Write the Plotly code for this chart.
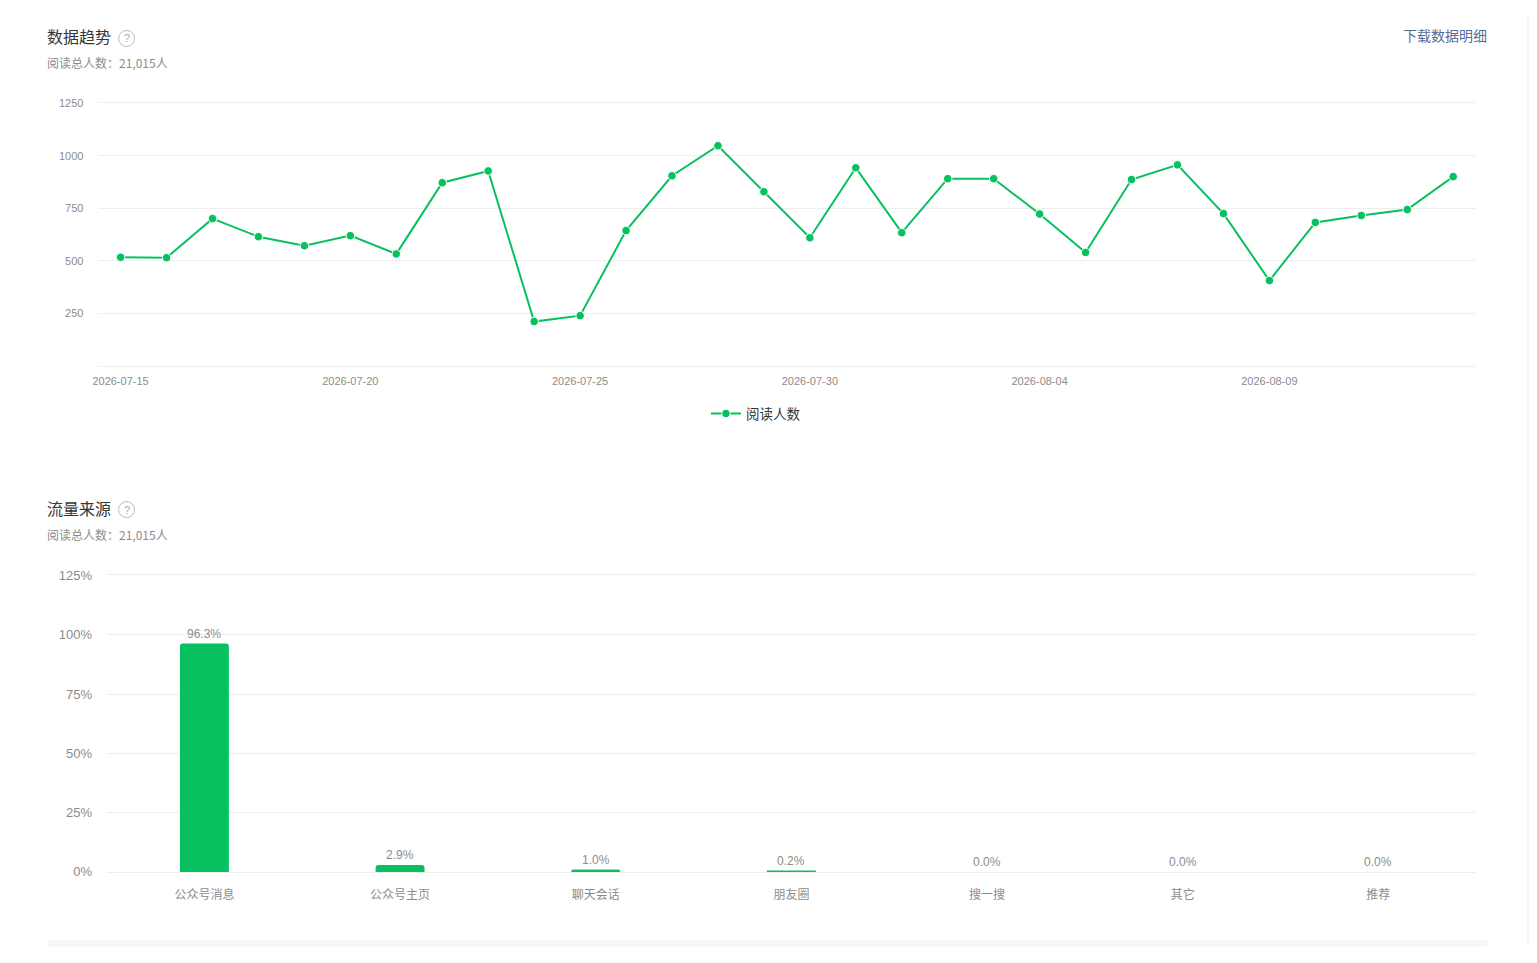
import plotly.graph_objects as go

# ---------------- data ----------------
dates = ["2026-07-15", "2026-07-16", "2026-07-17", "2026-07-18", "2026-07-19",
         "2026-07-20", "2026-07-21", "2026-07-22", "2026-07-23", "2026-07-24",
         "2026-07-25", "2026-07-26", "2026-07-27", "2026-07-28", "2026-07-29",
         "2026-07-30", "2026-07-31", "2026-08-01", "2026-08-02", "2026-08-03",
         "2026-08-04", "2026-08-05", "2026-08-06", "2026-08-07", "2026-08-08",
         "2026-08-09", "2026-08-10", "2026-08-11", "2026-08-12", "2026-08-13"]
readers = [517, 515, 701, 615, 572, 620, 533, 872, 928, 211,
           239, 644, 905, 1048, 829, 610, 943, 634, 891, 891,
           723, 540, 887, 957, 725, 406, 683, 716, 744, 901]
trend_yticks = [0, 250, 500, 750, 1000, 1250]

sources = ["公众号消息", "公众号主页", "聊天会话", "朋友圈", "搜一搜", "其它", "推荐"]
source_pct = [96.3, 2.9, 1.0, 0.2, 0.0, 0.0, 0.0]
source_yticks = [0, 25, 50, 75, 100, 125]

total_text = "阅读总人数：21,015人"
series_name = "阅读人数"

# ---------------- style ----------------
W, H = 1521, 947
GREEN = "#07c160"
GRID = "#eeeeee"
TICK = "#8c8c8c"
CJK = "Noto Sans CJK SC"
NUM = "Liberation Sans, Noto Sans CJK SC"


def px(x):
    # screen x -> paper fraction (accounts for page offset of the figure)
    return ((x - 11.3) / 0.99775) / W


def py(y):
    # screen y -> paper fraction
    return 1 - ((y - 13.5) / 0.986) / H


fig = go.Figure()

fig.add_trace(go.Scatter(
    x=dates, y=readers, name=series_name, mode="lines+markers",
    line=dict(color=GREEN, width=2),
    marker=dict(color=GREEN, size=8.5, line=dict(color="white", width=1)),
    xaxis="x", yaxis="y", showlegend=True,
))

fig.add_trace(go.Bar(
    x=sources, y=source_pct, width=0.25,
    marker=dict(color=GREEN, cornerradius=3, line=dict(width=0)),
    xaxis="x2", yaxis="y2", showlegend=False,
))

annotations = []
for s, v in zip(sources, source_pct):
    annotations.append(dict(
        x=s, y=v, xref="x2", yref="y2", text=f"{v:.1f}%", showarrow=False,
        yanchor="bottom", yshift=1,
        font=dict(family=NUM, size=12, color=TICK),
    ))

for ty, sy, hy, title in [(35, 61, 37, "数据趋势"), (507, 534, 509, "流量来源")]:
    annotations.append(dict(x=px(43), y=py(ty), xref="paper", yref="paper",
                            xanchor="left", yanchor="middle", showarrow=False,
                            text=title, font=dict(family=CJK, size=16, color="#353535")))
    annotations.append(dict(x=px(43), y=py(sy), xref="paper", yref="paper",
                            xanchor="left", yanchor="middle", showarrow=False,
                            text=total_text, font=dict(family=CJK, size=12, color=TICK)))
    annotations.append(dict(x=px(125), y=py(hy), xref="paper", yref="paper",
                            xanchor="center", yanchor="middle", showarrow=False,
                            text="?", font=dict(family=NUM, size=11, color="#aaaaaa")))

annotations.append(dict(x=px(1489), y=py(34), xref="paper", yref="paper",
                        xanchor="right", yanchor="middle", showarrow=False,
                        text="下载数据明细", font=dict(family=CJK, size=14, color="#576b95")))

shapes = [
    dict(type="rect", xref="paper", yref="paper", x0=px(1527), x1=1, y0=0, y1=1,
         fillcolor="#f5f6f8", line=dict(width=0), layer="below"),
    dict(type="rect", xref="paper", yref="paper", x0=px(46), x1=px(1487), y0=0, y1=py(940),
         fillcolor="#f6f7f9", line=dict(width=0), layer="below"),
]
for hy in (37, 509):
    shapes.append(dict(type="circle", xref="paper", yref="paper",
                       x0=px(117), x1=px(133), y0=py(hy + 8), y1=py(hy - 8),
                       line=dict(color="#bbbbbb", width=1), fillcolor="rgba(0,0,0,0)"))

fig.update_layout(
    width=W, height=H, margin=dict(l=0, r=0, t=0, b=0),
    paper_bgcolor="white", plot_bgcolor="white",
    font=dict(family=NUM, color=TICK),
    annotations=annotations, shapes=shapes,
    showlegend=True,
    legend=dict(orientation="h", x=px(755), y=py(413), xanchor="center", yanchor="middle",
                font=dict(family=CJK, size=13.5, color="#353535"), itemwidth=30,
                bgcolor="rgba(0,0,0,0)"),
    xaxis=dict(
        type="date", domain=[px(96), px(1476)], anchor="y",
        range=["2026-07-14 12:00", "2026-08-13 12:00"],
        tick0="2026-07-15", dtick=5 * 86400000, tickformat="%Y-%m-%d",
        showgrid=False, zeroline=False,
        showline=True, mirror=True, linecolor=GRID, linewidth=1,
        ticks="outside", ticklen=5, tickcolor="rgba(0,0,0,0)",
        tickfont=dict(family=NUM, size=11, color=TICK),
    ),
    yaxis=dict(
        domain=[py(365), py(102)], anchor="x", range=[0, 1250],
        tickvals=trend_yticks, ticktext=[""] + [str(v) for v in trend_yticks[1:]],
        showgrid=True, gridcolor=GRID, gridwidth=1, zeroline=False, showline=False,
        ticks="outside", ticklen=11, tickcolor="rgba(0,0,0,0)",
        tickfont=dict(family=NUM, size=11, color=TICK),
    ),
    xaxis2=dict(
        type="category", domain=[px(105), px(1476)], anchor="y2",
        range=[-0.5, len(sources) - 0.5],
        showgrid=False, zeroline=False,
        showline=True, mirror=True, linecolor=GRID, linewidth=1,
        ticks="outside", ticklen=12, tickcolor="rgba(0,0,0,0)",
        tickfont=dict(family=CJK, size=12, color=TICK),
    ),
    yaxis2=dict(
        domain=[py(872), py(575)], anchor="x2", range=[0, 125],
        tickvals=source_yticks, ticktext=[f"{v}%" for v in source_yticks],
        showgrid=True, gridcolor=GRID, gridwidth=1, zeroline=False, showline=False,
        ticks="outside", ticklen=11, tickcolor="rgba(0,0,0,0)",
        tickfont=dict(family=NUM, size=13, color=TICK),
    ),
)

fig.write_html("out.html", config={"displayModeBar": False})
